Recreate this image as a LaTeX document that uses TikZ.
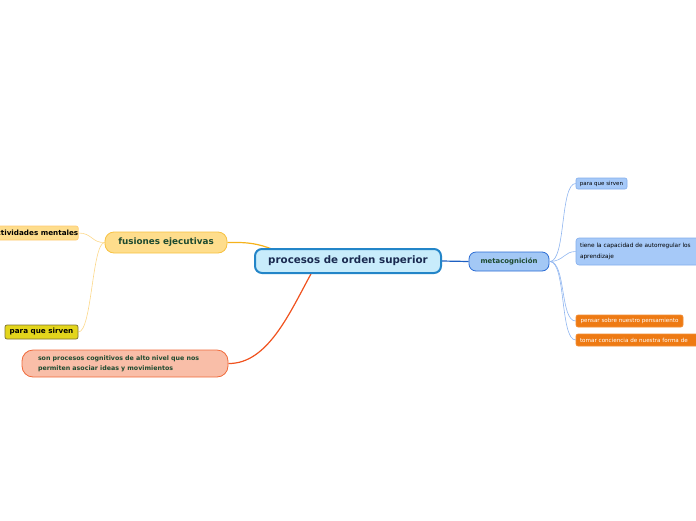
\documentclass[tikz,border=0pt]{standalone}
\usepackage{fontspec}
\newfontfamily\dv{DejaVu Sans}
\usetikzlibrary{backgrounds}
\definecolor{cenfill}{HTML}{C8ECFB}
\definecolor{cendraw}{HTML}{2385C8}
\definecolor{cental}{HTML}{1A2A50}
\definecolor{metafill}{HTML}{A3C8F5}
\definecolor{metadraw}{HTML}{2B6CD4}
\definecolor{subfill}{HTML}{A6C9F8}
\definecolor{subdraw}{HTML}{82ADEC}
\definecolor{orfill}{HTML}{EE7A13}
\definecolor{fusfill}{HTML}{FEDD8C}
\definecolor{fusdraw}{HTML}{F7C242}
\definecolor{ylfill}{HTML}{E3D51C}
\definecolor{yldraw}{HTML}{7D7232}
\definecolor{sonfill}{HTML}{F9BEA8}
\definecolor{sondraw}{HTML}{F06A3A}
\definecolor{dgreen}{HTML}{1D4A2F}
\definecolor{lnor}{HTML}{F5B21B}
\definecolor{lnred}{HTML}{F0521E}
\definecolor{lnblue}{HTML}{1D5FC2}
\definecolor{lnlblue}{HTML}{8FB5F0}
\definecolor{lnyel}{HTML}{FCD88A}
\tikzset{
  box/.style={rectangle,inner sep=0pt,font=\dv},
}
\begin{document}
\begin{tikzpicture}[x=1pt,y=-1pt]
\useasboundingbox (0,0) rectangle (696,520);
% central
\node[box,minimum width=186pt,minimum height=24pt,rounded corners=7pt,fill=cenfill,draw=cendraw,line width=2pt,text=cental,font=\dv\bfseries\fontsize{10.3}{12}\selectfont] (central) at (348,261) {procesos de orden superior};
% metacognicion
\node[box,minimum width=80pt,minimum height=19pt,rounded corners=7pt,fill=metafill,draw=metadraw,line width=0.8pt,text=dgreen,font=\dv\bfseries\fontsize{6.9}{8}\selectfont] (meta) at (509,261.5) {metacognición};
\node[box,minimum width=51pt,minimum height=11pt,rounded corners=2pt,fill=subfill,draw=subdraw,line width=0.6pt,font=\dv\fontsize{5.5}{6}\selectfont] (pqsr) at (601.5,183.5) {para que sirven};
\node[box,minimum width=144pt,minimum height=27pt,rounded corners=3pt,fill=subfill,draw=subdraw,line width=0.6pt,text width=136pt,align=left,font=\dv\fontsize{5.8}{11}\selectfont] (tiene) at (648,251.5) {tiene la capacidad de autorregular los\\aprendizaje};
\node[box,minimum width=107pt,minimum height=12pt,rounded corners=2pt,fill=orfill,draw=orfill!85!white,line width=0.6pt,text=white,font=\dv\fontsize{5.6}{6}\selectfont] (pensar) at (629.5,321) {pensar sobre nuestro pensamiento};
\node[box,minimum width=144pt,minimum height=12pt,rounded corners=2pt,fill=orfill,draw=orfill!85!white,line width=0.6pt,text=white,text width=136pt,align=left,font=\dv\fontsize{5.6}{6}\selectfont] (tomar) at (648,340) {tomar conciencia de nuestra forma de};
% fusiones
\node[box,minimum width=122pt,minimum height=21pt,rounded corners=9pt,fill=fusfill,draw=fusdraw,line width=0.8pt,text=dgreen,font=\dv\bfseries\fontsize{8.8}{10}\selectfont] (fus) at (166,242.5) {fusiones ejecutivas};
\node[box,minimum width=86pt,minimum height=14pt,rounded corners=2pt,fill=fusfill,draw=fusfill!80!orange,line width=0.6pt,text=black,font=\dv\bfseries\fontsize{7.2}{8}\selectfont] (act) at (35,233) {actividades mentales};
\node[box,minimum width=73pt,minimum height=14pt,rounded corners=2pt,fill=ylfill,draw=yldraw,line width=0.7pt,text=black,font=\dv\bfseries\fontsize{7.2}{8}\selectfont] (pqsl) at (41.5,332) {para que sirven};
% son procesos
\node[box,minimum width=206pt,minimum height=27pt,rounded corners=11pt,fill=sonfill,draw=sondraw,line width=0.8pt,text=dgreen,text width=174pt,align=left,font=\dv\bfseries\fontsize{6.3}{10}\selectfont] (son) at (125,363.5) {son procesos cognitivos de alto nivel que nos\\permiten asociar ideas y movimientos};
% connectors
\begin{scope}[on background layer]
\coordinate (c1) at (272,249);
\coordinate (c2) at (312,272);
\coordinate (m0) at (550,261.5);
\draw[lnor,line width=1.2pt] (fus.east) .. controls (250,242) and (258,244) .. (c1);
\draw[lnred,line width=1.2pt] (c2) .. controls (290,312) and (268,364) .. (son.east);
\draw[lnblue,line width=1.2pt] (central.east) -- (meta.west);
\draw[lnlblue,line width=0.6pt] (m0) .. controls (566,261) and (560,183.5) .. (pqsr.west);
\draw[lnlblue,line width=0.6pt] (m0) .. controls (564,261) and (564,251.5) .. (tiene.west);
\draw[lnlblue,line width=0.6pt] (m0) .. controls (566,262) and (560,321) .. (pensar.west);
\draw[lnlblue,line width=0.6pt] (m0) .. controls (566,262) and (560,340) .. (tomar.west);
\draw[lnyel,line width=0.6pt] (fus.west) .. controls (92,243) and (92,233) .. (act.east);
\draw[lnyel,line width=0.6pt] (fus.west) .. controls (92,243) and (92,332) .. (pqsl.east);
\end{scope}
\end{tikzpicture}
\end{document}
